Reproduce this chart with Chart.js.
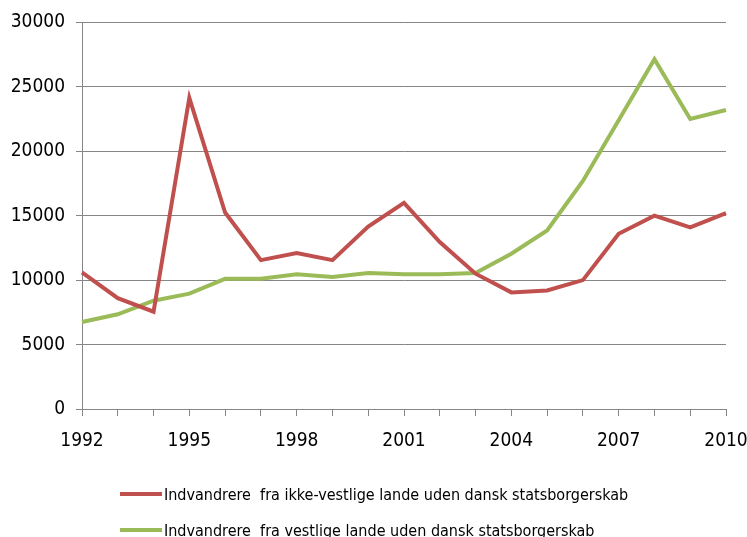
<!DOCTYPE html>
<html>
<head>
<meta charset="utf-8">
<script src="https://cdn.jsdelivr.net/npm/chart.js@4"></script>
<style>
  body { margin: 0; background: #fff; }
  #wrap { position: relative; width: 747px; height: 537px; overflow: hidden; }
  .legend-item { position: absolute; left: 120px; height: 20px; display: flex; align-items: center;
    font-family: "Liberation Sans Narrow", "DejaVu Sans Condensed", sans-serif; font-size: 16px; color: #000; white-space: pre; }
  .legend-item span.line { display: inline-block; width: 42px; height: 4px; margin-right: 2px; }
</style>
</head>
<body>
<div id="wrap">
  <canvas id="lineChart" width="747" height="537"></canvas>
</div>
<script>
const years = ["1992","1993","1994","1995","1996","1997","1998","1999","2000","2001",
  "2002","2003","2004","2005","2006","2007","2008","2009","2010"];
const seriesNames = [
  "Indvandrere  fra ikke-vestlige lande uden dansk statsborgerskab",
  "Indvandrere  fra vestlige lande uden dansk statsborgerskab"
];
const nonWestern = [10600, 8600, 7550, 24150, 15250, 11550, 12100, 11550, 14150, 16000,
  12950, 10500, 9050, 9200, 10000, 13600, 15000, 14100, 15200];
const western = [6750, 7350, 8400, 8950, 10100, 10100, 10450, 10250, 10550, 10450,
  10450, 10550, 12050, 13850, 17700, 22400, 27150, 22500, 23200];
const colors = ["#C0504D", "#9BBB59"];

const tickFont = { family: "'Liberation Sans Narrow', 'DejaVu Sans Condensed', sans-serif", size: 19 };
const gridColor = "#868686";

var ctx = document.getElementById("lineChart").getContext("2d");
var lineChart = new Chart(ctx, {
  type: "line",
  data: {
    labels: years,
    datasets: [
      { label: seriesNames[0], data: nonWestern, borderColor: colors[0], backgroundColor: colors[0],
        borderWidth: 4, pointRadius: 0, tension: 0 },
      { label: seriesNames[1], data: western, borderColor: colors[1], backgroundColor: colors[1],
        borderWidth: 4, pointRadius: 0, tension: 0 },
    ],
  },
  options: {
    responsive: false,
    animation: false,
    layout: { padding: { top: 22, right: 21, left: 0, bottom: 0 } },
    plugins: { legend: { display: false }, tooltip: { enabled: false } },
    scales: {
      x: {
        type: "category",
        offset: false,
        afterFit: (scale) => { scale.height = 128; scale.paddingLeft = 0; scale.paddingRight = 0; },
        grid: { drawOnChartArea: false, drawTicks: true, tickLength: 7, color: gridColor },
        border: { color: gridColor, width: 1 },
        ticks: {
          autoSkip: false, maxRotation: 0, padding: 14, color: "#000", font: tickFont,
          callback: (v, i) => (i % 3 === 0 ? years[i] : ""),
        },
      },
      y: {
        min: 0,
        max: 30000,
        afterFit: (scale) => { scale.width = 82; },
        grid: { color: gridColor, tickLength: 6 },
        border: { color: gridColor, width: 1 },
        ticks: { stepSize: 5000, padding: 11, color: "#000", font: tickFont,
          callback: (v) => String(v) },
      },
    },
  },
});

// legend below the chart, left aligned like the original
const wrap = document.getElementById("wrap");
const legendTops = [484, 520];
seriesNames.forEach((name, i) => {
  const item = document.createElement("div");
  item.className = "legend-item";
  item.style.top = legendTops[i] + "px";
  const line = document.createElement("span");
  line.className = "line";
  line.style.background = colors[i];
  item.appendChild(line);
  item.appendChild(document.createTextNode(name));
  wrap.appendChild(item);
});
</script>
</body>
</html>
